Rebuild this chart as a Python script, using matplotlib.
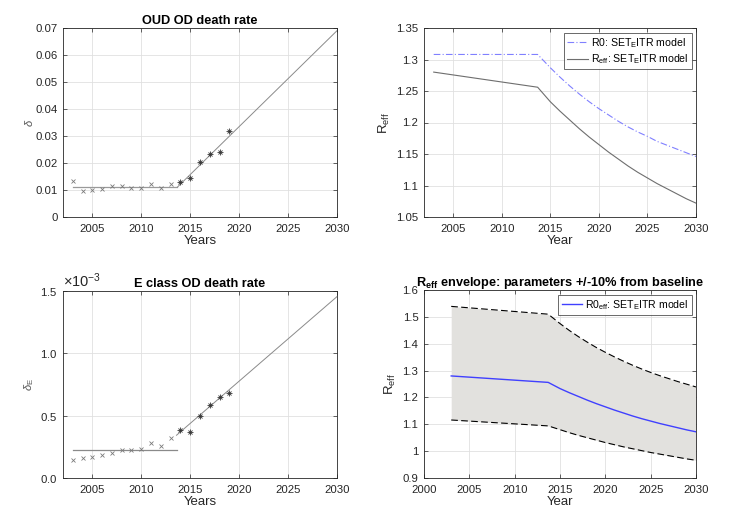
import matplotlib
matplotlib.use("Agg")
import matplotlib.pyplot as plt
from matplotlib.ticker import ScalarFormatter
import numpy as np

plt.rcParams['font.family'] = ['Liberation Sans', 'DejaVu Sans']
plt.rcParams['mathtext.fontset'] = 'custom'
plt.rcParams['mathtext.rm'] = 'Liberation Sans'
plt.rcParams['mathtext.it'] = 'Liberation Sans:italic'
plt.rcParams['mathtext.bf'] = 'Liberation Sans:bold'

# ---- data ----
years_pre = [2003, 2004, 2005, 2006, 2007, 2008, 2009, 2010, 2011, 2012, 2013]
years_post = [2014, 2015, 2016, 2017, 2018, 2019]

oud_pre = [0.0133, 0.0097, 0.0099, 0.0105, 0.0113, 0.0115, 0.0106, 0.0108, 0.0121, 0.0107, 0.0121]
oud_post = [0.0131, 0.0143, 0.0204, 0.0233, 0.0240, 0.0318]
oud_fit_flat_x = [2003, 2013.7]
oud_fit_flat_y = [0.0111, 0.0111]
oud_fit_rise_x = [2013.7, 2030]
oud_fit_rise_y = [0.0111, 0.0690]

e_pre = [0.000145, 0.000163, 0.000172, 0.000185, 0.000200, 0.000222, 0.000222, 0.000235, 0.000283, 0.000258, 0.000318]
e_post = [0.000385, 0.000365, 0.000500, 0.000588, 0.000650, 0.000678]
e_fit_flat_x = [2003, 2013.6]
e_fit_flat_y = [0.000222, 0.000222]
e_fit_rise_x = [2013.6, 2030]
e_fit_rise_y = [0.000343, 0.001455]

r_years = [2003, 2013.7, 2015, 2016, 2017, 2018, 2019, 2020, 2021, 2022, 2023,
           2024, 2025, 2026, 2027, 2028, 2029, 2030]
r0 = [1.308, 1.308, 1.287, 1.272, 1.258, 1.245, 1.233, 1.222, 1.212, 1.202, 1.193,
      1.185, 1.178, 1.170, 1.164, 1.158, 1.152, 1.146]
reff = [1.280, 1.256, 1.233, 1.218, 1.204, 1.190, 1.177, 1.165, 1.153, 1.142, 1.131,
        1.121, 1.112, 1.103, 1.095, 1.087, 1.079, 1.072]
reff_upper = [1.539, 1.510, 1.475, 1.450, 1.427, 1.406, 1.386, 1.368, 1.351, 1.335, 1.320,
              1.306, 1.293, 1.281, 1.270, 1.259, 1.249, 1.239]
reff_lower = [1.116, 1.094, 1.080, 1.069, 1.059, 1.050, 1.041, 1.032, 1.024, 1.016, 1.009,
              1.002, 0.995, 0.989, 0.983, 0.977, 0.971, 0.966]

# ---- figure ----
W, H = 734, 526
fig = plt.figure(figsize=(W / 100, H / 100), dpi=100)

def mk_ax(x0, x1, y0, y1):
    return fig.add_axes([x0 / W, 1 - y1 / H, (x1 - x0) / W, (y1 - y0) / H])

axc = '#262626'

def style(ax):
    ax.grid(True, color='#e0e0e0', linewidth=0.6)
    ax.set_axisbelow(True)
    for s in ax.spines.values():
        s.set_color('#262626')
        s.set_linewidth(0.6)
    ax.tick_params(direction='in', length=3, width=0.5, colors=axc, labelsize=8.2,
                   top=True, right=True, labelcolor=axc)
    ax.tick_params(axis='x', pad=5)
    ax.tick_params(axis='y', pad=4)

ax1 = mk_ax(63, 337, 28, 217)
ax2 = mk_ax(424, 696, 28, 217)
ax3 = mk_ax(63, 337, 291, 478)
ax4 = mk_ax(424, 696, 290, 478)

TFS = 9.2
LFS = 9.5
GFS = 7.6
LEGKW = dict(loc='upper right', fontsize=GFS, frameon=True, fancybox=False,
             edgecolor='#262626', borderpad=0.3, handlelength=1.9, handletextpad=0.35,
             labelspacing=0.25, borderaxespad=0.0, bbox_to_anchor=(0.985, 0.975))

# panel 1
ax1.plot(oud_fit_flat_x, oud_fit_flat_y, color='#9a9a9a', lw=0.9)
ax1.plot(oud_fit_rise_x, oud_fit_rise_y, color='#8a8a8a', lw=0.7)
ax1.plot(years_pre, oud_pre, 'x', color='#7a7a7a', ms=3.5, mew=0.6)
ax1.plot(years_post, oud_post, 'x', color='#333333', ms=3.5, mew=0.6)
ax1.plot(years_post, oud_post, '+', color='#333333', ms=4.5, mew=0.6)
ax1.set_xlim(2002, 2030)
ax1.set_ylim(0, 0.07)
ax1.set_xticks([2005, 2010, 2015, 2020, 2025, 2030])
ax1.set_yticks(np.arange(0, 0.0701, 0.01))
ax1.set_yticklabels(['0', '0.01', '0.02', '0.03', '0.04', '0.05', '0.06', '0.07'])
ax1.set_title('OUD OD death rate', fontsize=TFS, fontweight='bold', pad=3)
ax1.set_xlabel('Years', fontsize=LFS, color=axc, labelpad=1)
ax1.set_ylabel(r'$\delta$', fontsize=8, color='#555555', labelpad=0)
style(ax1)

# panel 2
ax2.plot(r_years, r0, color='#8080ff', lw=0.8, ls=(0, (6, 2, 1, 2)),
         label=r'R0: SET$_\mathrm{E}$ITR model')
ax2.plot(r_years, reff, color='#6e6e6e', lw=0.8,
         label=r'R$_\mathrm{eff}$: SET$_\mathrm{E}$ITR model')
ax2.set_xlim(2002, 2030)
ax2.set_ylim(1.05, 1.35)
ax2.set_xticks([2005, 2010, 2015, 2020, 2025, 2030])
ax2.set_yticks([1.05, 1.1, 1.15, 1.2, 1.25, 1.3, 1.35])
ax2.set_yticklabels(['1.05', '1.1', '1.15', '1.2', '1.25', '1.3', '1.35'])
ax2.set_xlabel('Year', fontsize=LFS, color=axc, labelpad=1)
ax2.set_ylabel(r'R$_\mathrm{eff}$', fontsize=LFS, color=axc, labelpad=3)
leg = ax2.legend(**LEGKW)
leg.get_frame().set_linewidth(0.6)
style(ax2)

# panel 3
ax3.plot(e_fit_flat_x, e_fit_flat_y, color='#8a8a8a', lw=0.9)
ax3.plot(e_fit_rise_x, e_fit_rise_y, color='#8a8a8a', lw=0.7)
ax3.plot(years_pre, e_pre, 'x', color='#7a7a7a', ms=3.5, mew=0.6)
ax3.plot(years_post, e_post, 'x', color='#333333', ms=3.5, mew=0.6)
ax3.plot(years_post, e_post, '+', color='#333333', ms=4.5, mew=0.6)
ax3.set_xlim(2002, 2030)
ax3.set_ylim(0, 0.0015)
ax3.set_xticks([2005, 2010, 2015, 2020, 2025, 2030])
ax3.set_yticks([0, 0.0005, 0.001, 0.0015])
fmt = ScalarFormatter(useMathText=True)
fmt.set_powerlimits((-2, 2))
ax3.yaxis.set_major_formatter(fmt)
ax3.set_title('E class OD death rate', fontsize=TFS, fontweight='bold', pad=3)
ax3.set_xlabel('Years', fontsize=LFS, color=axc, labelpad=1)
ax3.set_ylabel(r'$\delta_\mathrm{E}$', fontsize=8, color='#555555', labelpad=3)
style(ax3)
ax3.yaxis.get_offset_text().set_fontsize(10.5)
ax3.yaxis.get_offset_text().set_color(axc)

# panel 4
ax4.fill_between(r_years, reff_lower, reff_upper, color='#e2e1de', lw=0)
ax4.plot(r_years, reff_upper, color='black', lw=0.8, ls=(0, (6, 3)))
ax4.plot(r_years, reff_lower, color='black', lw=0.8, ls=(0, (6, 3)))
ax4.plot(r_years, reff, color='#4040ff', lw=1.0,
         label=r'R0$_\mathrm{eff}$: SET$_\mathrm{E}$ITR model')
ax4.set_xlim(2000, 2030)
ax4.set_ylim(0.9, 1.6)
ax4.set_xticks([2000, 2005, 2010, 2015, 2020, 2025, 2030])
ax4.set_yticks([0.9, 1.0, 1.1, 1.2, 1.3, 1.4, 1.5, 1.6])
ax4.set_yticklabels(['0.9', '1', '1.1', '1.2', '1.3', '1.4', '1.5', '1.6'])
ax4.set_title(r'R$_\mathbf{eff}$ envelope: parameters +/-10% from baseline',
              fontsize=TFS, fontweight='bold', pad=3)
ax4.set_xlabel('Year', fontsize=LFS, color=axc, labelpad=1)
ax4.set_ylabel(r'R$_\mathrm{eff}$', fontsize=LFS, color=axc, labelpad=3)
leg = ax4.legend(**LEGKW)
leg.get_frame().set_linewidth(0.6)
style(ax4)

fig.savefig('out.png', dpi=100)
